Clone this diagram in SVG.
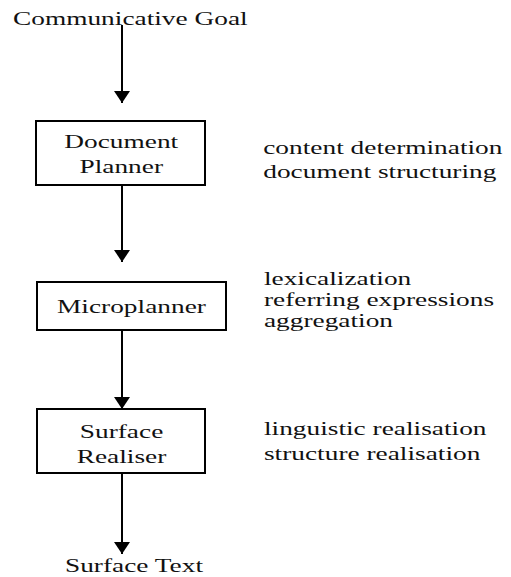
<svg xmlns="http://www.w3.org/2000/svg" width="511" height="577" viewBox="0 0 511 577">
  <style>
    .box { fill: #ffffff; stroke: #000000; stroke-width: 2; }
    .edge { stroke: #000000; stroke-width: 2; fill: none; }
    text { font-family: "Liberation Serif", "Times New Roman", serif; font-size: 19px; fill: #111111; }
    .mid { text-anchor: middle; }
  </style>
  <defs>
    <marker id="head" markerUnits="userSpaceOnUse" viewBox="0 0 12 16" refX="12" refY="8" markerWidth="12" markerHeight="16" orient="auto">
      <path d="M0,0 L12,8 L0,16 z" fill="#000000"/>
    </marker>
  </defs>
  <rect width="511" height="577" fill="#ffffff"/>

  <!-- connectors -->
  <g id="connectors">
    <line class="edge" x1="122" y1="25" x2="122" y2="103" marker-end="url(#head)"/>
    <line class="edge" x1="122" y1="185" x2="122" y2="262" marker-end="url(#head)"/>
    <line class="edge" x1="122" y1="330" x2="122" y2="409" marker-end="url(#head)"/>
    <line class="edge" x1="122" y1="473" x2="122" y2="554" marker-end="url(#head)"/>
  </g>

  <!-- pipeline stages (text is set in a horizontally widened frame: x / 1.44) -->
  <g id="document-planner">
    <rect class="box" x="36" y="121" width="169" height="64"/>
    <g transform="scale(1.44 1)">
      <text class="mid" x="84.2" y="148">Document</text>
      <text class="mid" x="84.2" y="173">Planner</text>
    </g>
  </g>

  <g id="microplanner">
    <rect class="box" x="37" y="282" width="189" height="48"/>
    <g transform="scale(1.44 1)">
      <text class="mid" x="91.3" y="313">Microplanner</text>
    </g>
  </g>

  <g id="surface-realiser">
    <rect class="box" x="37" y="409" width="168" height="64"/>
    <g transform="scale(1.44 1)">
      <text class="mid" x="84.4" y="438">Surface</text>
      <text class="mid" x="84.4" y="463">Realiser</text>
    </g>
  </g>

  <!-- input and output -->
  <g id="communicative-goal" transform="scale(1.44 1)">
    <text x="9.0" y="25">Communicative Goal</text>
  </g>
  <g id="surface-text" transform="scale(1.44 1)">
    <text x="45.1" y="572">Surface Text</text>
  </g>

  <!-- task lists beside each stage -->
  <g id="planner-tasks" transform="scale(1.44 1)">
    <text x="182.8" y="154">content determination</text>
    <text x="182.8" y="178">document structuring</text>
  </g>
  <g id="microplanner-tasks" transform="scale(1.44 1)">
    <text x="183.3" y="285">lexicalization</text>
    <text x="183.3" y="306">referring expressions</text>
    <text x="183.3" y="327">aggregation</text>
  </g>
  <g id="realiser-tasks" transform="scale(1.44 1)">
    <text x="183.3" y="435">linguistic realisation</text>
    <text x="183.3" y="460">structure realisation</text>
  </g>
</svg>
